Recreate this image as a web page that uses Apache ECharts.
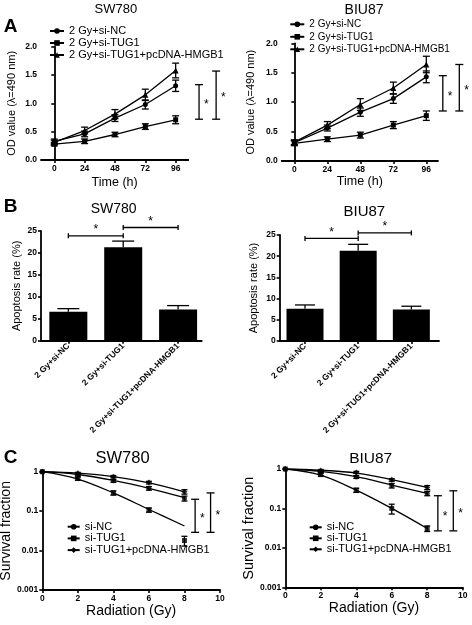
<!DOCTYPE html>
<html><head><meta charset="utf-8">
<script src="https://cdn.jsdelivr.net/npm/echarts@6/dist/echarts.min.js"></script>
<style>html,body{margin:0;padding:0;background:#fff;}#c{width:472px;height:625px;}</style>
</head><body><div id="c"></div><script>
const FONT = 'Liberation Sans, Arial, Helvetica, sans-serif';

// ---------- Panel A : OD value ----------
const timeTicks = [0, 24, 48, 72, 96];
const odLegend = ['2 Gy+si-NC', '2 Gy+si-TUG1', '2 Gy+si-TUG1+pcDNA-HMGB1'];
const swOD_NC = [0.33, 0.46, 0.74, 0.98, 1.31];
const swOD_NC_err = [0.04, 0.05, 0.06, 0.08, 0.10];
const swOD_TUG1 = [0.28, 0.33, 0.45, 0.59, 0.71];
const swOD_TUG1_err = [0.03, 0.04, 0.04, 0.05, 0.07];
const swOD_HMGB1 = [0.31, 0.52, 0.81, 1.15, 1.58];
const swOD_HMGB1_err = [0.04, 0.06, 0.08, 0.10, 0.13];
const swOD_sig = [[114.5, 0.72, 1.33], [128, 0.72, 1.57]];

const biOD_NC = [0.31, 0.56, 0.83, 1.06, 1.43];
const biOD_NC_err = [0.04, 0.05, 0.07, 0.08, 0.10];
const biOD_TUG1 = [0.30, 0.37, 0.44, 0.61, 0.77];
const biOD_TUG1_err = [0.04, 0.04, 0.05, 0.06, 0.08];
const biOD_HMGB1 = [0.32, 0.61, 0.96, 1.24, 1.64];
const biOD_HMGB1_err = [0.04, 0.06, 0.10, 0.10, 0.14];
const biOD_sig = [[108, 0.85, 1.45], [120, 0.85, 1.64]];

// ---------- Panel B : apoptosis ----------
const apopCats = ['2 Gy+si-NC', '2 Gy+si-TUG1', '2 Gy+si-TUG1+pcDNA-HMGB1'];
const swApop = [6.6, 21.3, 7.1];
const swApop_err = [0.7, 1.4, 0.9];
const swApop_sig = [[1, 2, 23.9], [2, 3, 25.8]];
const biApop = [7.6, 21.3, 7.4];
const biApop_err = [0.9, 1.5, 0.8];
const biApop_sig = [[1, 2, 24.2], [2, 3, 25.5]];

// ---------- Panel C : survival fraction ----------
const doseTicks = [0, 2, 4, 6, 8, 10];
const doses = [0, 2, 4, 6, 8];
const survLegend = ['si-NC', 'si-TUG1', 'si-TUG1+pcDNA-HMGB1'];
const survTicks = [0.001, 0.01, 0.1, 1];
const survTickLabels = ['0.001', '0.01', '0.1', '1'];

const swSF_NC = [1, 0.83, 0.59, 0.38, 0.21];
const swSF_NC_err = [0, 0.05, 0.05, 0.04, 0.03];
const swSF_TUG1 = [1, 0.67, 0.29, 0.107, 0.018];
const swSF_TUG1_err = [0, 0.06, 0.035, 0.013, 0.005];
const swSF_HMGB1 = [1, 0.91, 0.75, 0.53, 0.31];
const swSF_HMGB1_err = [0, 0.05, 0.05, 0.04, 0.04];
const swFit_NC = [1, 0.85, 0.60, 0.38, 0.22];
const swFit_TUG1 = [1, 0.65, 0.29, 0.11, 0.042];
const swFit_HMGB1 = [1, 0.92, 0.75, 0.52, 0.31];
const swSF_sig = [[8.6, 0.029, 0.2], [9.47, 0.029, 0.29]];

const biSF_NC = [1, 0.86, 0.63, 0.38, 0.24];
const biSF_NC_err = [0, 0.05, 0.05, 0.05, 0.03];
const biSF_TUG1 = [1, 0.72, 0.29, 0.10, 0.031];
const biSF_TUG1_err = [0, 0.06, 0.035, 0.028, 0.005];
const biSF_HMGB1 = [1, 0.92, 0.82, 0.53, 0.34];
const biSF_HMGB1_err = [0, 0.05, 0.05, 0.04, 0.04];
const biFit_NC = [1, 0.87, 0.64, 0.39, 0.24];
const biFit_TUG1 = [1, 0.70, 0.29, 0.10, 0.031];
const biFit_HMGB1 = [1, 0.93, 0.79, 0.54, 0.34];
const biSF_sig = [[8.6, 0.027, 0.21], [9.47, 0.027, 0.28]];

// ---------- helpers ----------
const BLACK = '#000';
const LW = 1.3;
function pairs(xs, ys) { return xs.map((x, i) => [x, ys[i]]); }
function errData(xs, ys, es) {
  return xs.map((x, i) => [x, ys[i] - es[i], ys[i] + es[i]]).filter((d, i) => es[i] > 0);
}
function vErrRender(capHalf, lowCap) {
  return function (params, api) {
    const x = api.value(0);
    const a = api.coord([x, api.value(1)]);
    const b = api.coord([x, api.value(2)]);
    const st = { stroke: BLACK, lineWidth: LW };
    const ch = [
      { type: 'line', shape: { x1: a[0], y1: a[1], x2: b[0], y2: b[1] }, style: st },
      { type: 'line', shape: { x1: b[0] - capHalf, y1: b[1], x2: b[0] + capHalf, y2: b[1] }, style: st }
    ];
    if (lowCap) ch.push({ type: 'line', shape: { x1: a[0] - capHalf, y1: a[1], x2: a[0] + capHalf, y2: a[1] }, style: st });
    return { type: 'group', children: ch };
  };
}
function vSigRender(capHalf) {
  return function (params, api) {
    const x = api.value(0);
    const a = api.coord([x, api.value(1)]);
    const b = api.coord([x, api.value(2)]);
    const st = { stroke: BLACK, lineWidth: LW };
    return { type: 'group', children: [
      { type: 'line', shape: { x1: a[0], y1: a[1], x2: b[0], y2: b[1] }, style: st },
      { type: 'line', shape: { x1: a[0] - capHalf, y1: a[1], x2: a[0] + capHalf, y2: a[1] }, style: st },
      { type: 'line', shape: { x1: b[0] - capHalf, y1: b[1], x2: b[0] + capHalf, y2: b[1] }, style: st },
      { type: 'text', x: a[0] + 5, y: (a[1] + b[1]) / 2 + 3,
        style: { text: '*', fill: BLACK, font: '12px ' + FONT, align: 'left', verticalAlign: 'middle' } }
    ]};
  };
}
function hSigRender(capHalf) {
  return function (params, api) {
    const a = api.coord([api.value(0), api.value(2)]);
    const b = api.coord([api.value(1), api.value(2)]);
    const st = { stroke: BLACK, lineWidth: LW };
    return { type: 'group', children: [
      { type: 'line', shape: { x1: a[0], y1: a[1], x2: b[0], y2: b[1] }, style: st },
      { type: 'line', shape: { x1: a[0], y1: a[1] - capHalf, x2: a[0], y2: a[1] + capHalf }, style: st },
      { type: 'line', shape: { x1: b[0], y1: b[1] - capHalf, x2: b[0], y2: b[1] + capHalf }, style: st },
      { type: 'text', x: (a[0] + b[0]) / 2, y: a[1] - 6,
        style: { text: '*', fill: BLACK, font: '12px ' + FONT, align: 'center', verticalAlign: 'middle' } }
    ]};
  };
}
function lineSer(name, xs, ys, gi, symbol, size, showSym) {
  return { type: 'line', name: name, xAxisIndex: gi, yAxisIndex: gi, data: pairs(xs, ys),
    symbol: symbol, symbolSize: size, showSymbol: showSym !== false, smooth: showSym === false ? 0.35 : false,
    itemStyle: { color: BLACK }, lineStyle: { color: BLACK, width: LW }, z: 2 };
}
function scatSer(xs, ys, gi, symbol, size) {
  return { type: 'scatter', xAxisIndex: gi, yAxisIndex: gi, data: pairs(xs, ys),
    symbol: symbol, symbolSize: size, itemStyle: { color: BLACK }, z: 4 };
}
function customSer(gi, data, render) {
  return { type: 'custom', xAxisIndex: gi, yAxisIndex: gi, data: data, renderItem: render,
    encode: { x: 0, y: [1, 2] }, clip: false, z: 3, silent: true };
}

const axisLineStyle = { show: true, lineStyle: { color: BLACK, width: 1.8 } };
const tickStyle = { show: true, length: 3, lineStyle: { color: BLACK, width: 1.6 } };
const labelBase = { color: BLACK, fontSize: 8.5, fontWeight: 'bold', fontFamily: FONT };
const nameBase = { color: BLACK, fontFamily: FONT };

function xValAxis(gi, min, max, ticks, name, nameSize, nameGap, fmt, rotate) {
  return { type: 'value', gridIndex: gi, min: min, max: max,
    axisLine: axisLineStyle, splitLine: { show: false },
    axisTick: Object.assign({ customValues: ticks }, tickStyle),
    axisLabel: Object.assign({ customValues: ticks, margin: 4, rotate: rotate || 0,
      formatter: fmt || (v => String(v)) }, labelBase),
    name: name, nameLocation: 'middle', nameGap: nameGap,
    nameTextStyle: Object.assign({ fontSize: nameSize }, nameBase) };
}
function yValAxis(gi, min, max, interval, name, nameSize, nameGap, fmt) {
  return { type: 'value', gridIndex: gi, min: min, max: max, interval: interval,
    axisLine: axisLineStyle, splitLine: { show: false }, axisTick: tickStyle,
    axisLabel: Object.assign({ margin: 4, formatter: fmt }, labelBase),
    name: name, nameLocation: 'middle', nameGap: nameGap,
    nameTextStyle: Object.assign({ fontSize: nameSize }, nameBase) };
}
function yLogAxis(gi, name, nameSize, nameGap) {
  return { type: 'log', logBase: 10, gridIndex: gi, min: survTicks[0], max: survTicks[survTicks.length - 1],
    axisLine: axisLineStyle, splitLine: { show: false }, minorTick: { show: false }, axisTick: tickStyle,
    axisLabel: Object.assign({ margin: 4,
      formatter: v => survTickLabels[Math.round(Math.log10(v)) + 3] }, labelBase),
    name: name, nameLocation: 'middle', nameGap: nameGap,
    nameTextStyle: Object.assign({ fontSize: nameSize }, nameBase) };
}

const grids = [
  { left: 41, top: 46.7, width: 147.3, height: 113.3 },
  { left: 281.7, top: 43.3, width: 156.3, height: 117.7 },
  { left: 41, top: 231, width: 160.7, height: 109.7 },
  { left: 279.7, top: 235, width: 159.3, height: 106 },
  { left: 42.3, top: 471.7, width: 177.7, height: 118.3 },
  { left: 285.3, top: 469, width: 177.4, height: 118.3 }
].map(g => Object.assign({ containLabel: false, outerBoundsMode: 'none' }, g));

const catFmt = v => apopCats[Math.round(v) - 1] || '';
const xAxes = [
  xValAxis(0, -10.5, 106, timeTicks, 'Time (h)', 12.5, 16, null),
  xValAxis(1, -9.2, 104.5, timeTicks, 'Time (h)', 12.5, 14, null),
  xValAxis(2, 0.502, 3.43, [1, 2, 3], '', 10, 10, catFmt, 45),
  xValAxis(3, 0.524, 3.52, [1, 2, 3], '', 10, 10, catFmt, 45),
  xValAxis(4, 0, 10, doseTicks, 'Radiation (Gy)', 14, 12, null),
  xValAxis(5, 0, 10, doseTicks, 'Radiation (Gy)', 14, 13, null)
];
const od = v => v.toFixed(1);
const yAxes = [
  yValAxis(0, 0, 2, 0.5, 'OD value (λ=490 nm)', 11, 24, od),
  yValAxis(1, 0, 2, 0.5, 'OD value (λ=490 nm)', 11, 25.5, od),
  yValAxis(2, 0, 25, 5, 'Apoptosis rate (%)', 11, 18.5, v => String(v)),
  yValAxis(3, 0, 25, 5, 'Apoptosis rate (%)', 11, 20.5, v => String(v)),
  yLogAxis(4, 'Survival fraction', 14, 27),
  yLogAxis(5, 'Survival fraction', 14.5, 27.5)
];

const series = [
  // A SW780
  lineSer(odLegend[0], timeTicks, swOD_NC, 0, 'circle', 5),
  lineSer(odLegend[1], timeTicks, swOD_TUG1, 0, 'rect', 5),
  lineSer(odLegend[2], timeTicks, swOD_HMGB1, 0, 'triangle', 6),
  customSer(0, errData(timeTicks, swOD_NC, swOD_NC_err), vErrRender(3.5, true)),
  customSer(0, errData(timeTicks, swOD_TUG1, swOD_TUG1_err), vErrRender(3.5, true)),
  customSer(0, errData(timeTicks, swOD_HMGB1, swOD_HMGB1_err), vErrRender(3.5, true)),
  customSer(0, swOD_sig, vSigRender(4)),
  // A BIU87
  lineSer(odLegend[0], timeTicks, biOD_NC, 1, 'circle', 5),
  lineSer(odLegend[1], timeTicks, biOD_TUG1, 1, 'rect', 5),
  lineSer(odLegend[2], timeTicks, biOD_HMGB1, 1, 'triangle', 6),
  customSer(1, errData(timeTicks, biOD_NC, biOD_NC_err), vErrRender(3.5, true)),
  customSer(1, errData(timeTicks, biOD_TUG1, biOD_TUG1_err), vErrRender(3.5, true)),
  customSer(1, errData(timeTicks, biOD_HMGB1, biOD_HMGB1_err), vErrRender(3.5, true)),
  customSer(1, biOD_sig, vSigRender(4)),
  // B SW780
  { type: 'bar', xAxisIndex: 2, yAxisIndex: 2, data: apopCats.map((c, i) => [i + 1, swApop[i]]),
    barWidth: 38, itemStyle: { color: BLACK }, z: 2 },
  customSer(2, apopCats.map((c, i) => [i + 1, swApop[i], swApop[i] + swApop_err[i]]), vErrRender(11, false)),
  customSer(2, swApop_sig, hSigRender(2.5)),
  // B BIU87
  { type: 'bar', xAxisIndex: 3, yAxisIndex: 3, data: apopCats.map((c, i) => [i + 1, biApop[i]]),
    barWidth: 37, itemStyle: { color: BLACK }, z: 2 },
  customSer(3, apopCats.map((c, i) => [i + 1, biApop[i], biApop[i] + biApop_err[i]]), vErrRender(10, false)),
  customSer(3, biApop_sig, hSigRender(2.5)),
  // C SW780
  lineSer(survLegend[0], doses, swFit_NC, 4, 'circle', 5, false),
  lineSer(survLegend[1], doses, swFit_TUG1, 4, 'rect', 5, false),
  lineSer(survLegend[2], doses, swFit_HMGB1, 4, 'diamond', 6, false),
  scatSer(doses, swSF_NC, 4, 'circle', 5),
  scatSer(doses, swSF_TUG1, 4, 'rect', 5),
  scatSer(doses, swSF_HMGB1, 4, 'diamond', 6),
  customSer(4, errData(doses, swSF_NC, swSF_NC_err), vErrRender(3, true)),
  customSer(4, errData(doses, swSF_TUG1, swSF_TUG1_err), vErrRender(3, true)),
  customSer(4, errData(doses, swSF_HMGB1, swSF_HMGB1_err), vErrRender(3, true)),
  customSer(4, swSF_sig, vSigRender(4)),
  // C BIU87
  lineSer(survLegend[0], doses, biFit_NC, 5, 'circle', 5, false),
  lineSer(survLegend[1], doses, biFit_TUG1, 5, 'rect', 5, false),
  lineSer(survLegend[2], doses, biFit_HMGB1, 5, 'diamond', 6, false),
  scatSer(doses, biSF_NC, 5, 'circle', 5),
  scatSer(doses, biSF_TUG1, 5, 'rect', 5),
  scatSer(doses, biSF_HMGB1, 5, 'diamond', 6),
  customSer(5, errData(doses, biSF_NC, biSF_NC_err), vErrRender(3, true)),
  customSer(5, errData(doses, biSF_TUG1, biSF_TUG1_err), vErrRender(3, true)),
  customSer(5, errData(doses, biSF_HMGB1, biSF_HMGB1_err), vErrRender(3, true)),
  customSer(5, biSF_sig, vSigRender(4))
];

function legendAt(names, left, top, fontSize, itemWidth, gap) {
  return { data: names, orient: 'vertical', left: left, top: top, padding: 0,
    itemWidth: itemWidth, itemHeight: 7, itemGap: gap, selectedMode: false,
    textStyle: { color: BLACK, fontSize: fontSize, fontFamily: FONT } };
}
const legends = [
  legendAt(odLegend, 49, 25.5, 11, 14, 1),
  legendAt(odLegend, 289.3, 19.3, 10, 14, 2.5),
  legendAt(survLegend, 66.7, 521.2, 11, 12, 0.7),
  legendAt(survLegend, 308.7, 521.8, 11, 12, 0)
];

function txt(s, x, y, size, bold) {
  return { type: 'text', x: x, y: y, silent: true,
    style: { text: s, fill: BLACK, font: (bold ? 'bold ' : '') + size + 'px ' + FONT,
      align: 'center', verticalAlign: 'middle' } };
}
const graphics = [
  txt('A', 10.5, 27, 19, true), txt('B', 10.5, 206.5, 19, true), txt('C', 10.5, 458, 19, true),
  txt('SW780', 115.8, 9.5, 13), txt('BIU87', 364, 10.5, 14),
  txt('SW780', 113.7, 209.5, 14), txt('BIU87', 364.3, 211.5, 15),
  txt('SW780', 122.5, 458.5, 16.5), txt('BIU87', 370.7, 458.5, 15.5)
];

const chart = echarts.init(document.getElementById('c'), null, { renderer: 'canvas' });
chart.setOption({
  animation: false,
  backgroundColor: '#fff',
  textStyle: { fontFamily: FONT },
  grid: grids, xAxis: xAxes, yAxis: yAxes,
  legend: legends, series: series, graphic: graphics
});
</script></body></html>
